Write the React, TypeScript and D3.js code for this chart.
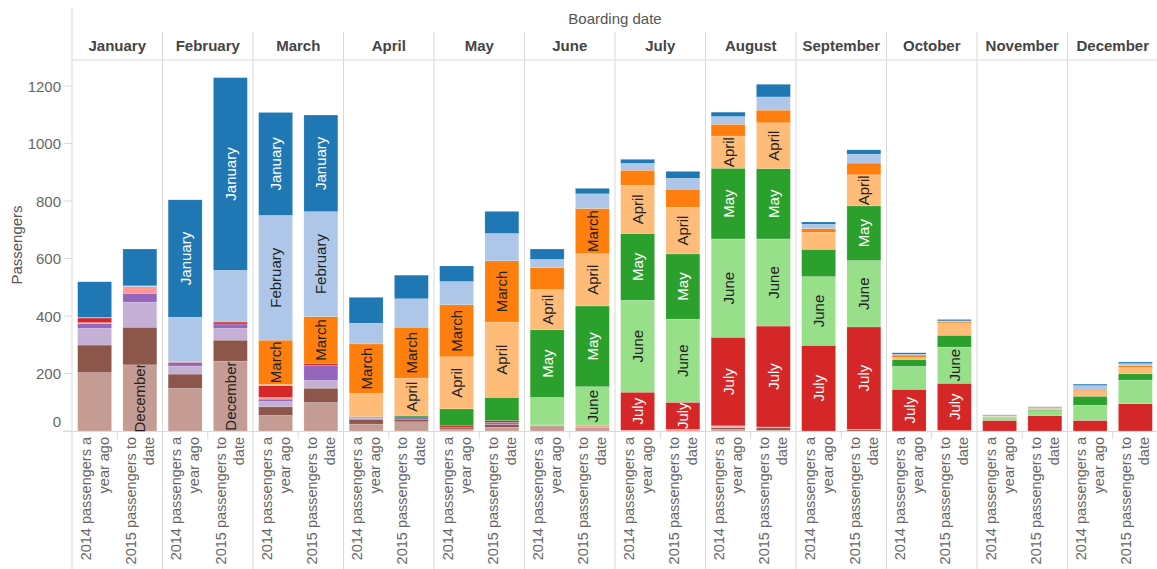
import * as d3 from 'd3';
import React, { useRef, useEffect } from 'react';

// boarding months (columns) and booking months (stack colours) share the same names
const months = ['January', 'February', 'March', 'April', 'May', 'June', 'July', 'August', 'September', 'October', 'November', 'December'];
const seriesNames = ['2014 passengers a year ago', '2015 passengers to date'];
const axisLines = [['2014 passengers a', 'year ago'], ['2015 passengers to', 'date']];
const yTicks = [0, 200, 400, 600, 800, 1000, 1200];

// each row: one boarding month, values by booking month Jan..Dec
const yearAgo = [
    [124, 2, 0, 0, 0, 0, 16, 3, 17, 58, 96, 203],
    [408, 154, 3, 0, 0, 0, 0, 0, 13, 28, 50, 148],
    [358, 434, 154, 4, 0, 0, 41, 6, 8, 19, 30, 54],
    [90, 72, 172, 81, 3, 0, 0, 0, 3, 3, 17, 24],
    [54, 81, 181, 181, 59, 0, 5, 0, 0, 0, 6, 7],
    [36, 28, 77, 140, 235, 96, 0, 3, 0, 0, 0, 18],
    [14, 24, 52, 168, 232, 320, 132, 3, 0, 0, 0, 0],
    [15, 27, 41, 112, 246, 342, 308, 3, 0, 3, 6, 6],
    [8, 15, 13, 59, 95, 239, 298, 0, 0, 0, 0, 0],
    [5, 3, 8, 7, 24, 80, 145, 0, 0, 0, 0, 0],
    [2, 3, 0, 3, 2, 9, 37, 0, 0, 0, 0, 0],
    [5, 16, 5, 16, 31, 53, 37, 0, 0, 0, 0, 0],
];
const toDate = [
    [128, 3, 0, 0, 0, 0, 0, 23, 31, 87, 131, 230],
    [670, 177, 3, 0, 0, 0, 7, 0, 15, 41, 73, 243],
    [336, 365, 163, 0, 0, 0, 7, 0, 52, 27, 50, 99],
    [82, 99, 177, 130, 5, 0, 0, 0, 8, 0, 9, 32],
    [77, 95, 213, 262, 81, 0, 6, 0, 7, 0, 10, 13],
    [19, 51, 157, 182, 281, 136, 0, 5, 0, 0, 0, 13],
    [24, 38, 63, 162, 227, 289, 94, 6, 0, 0, 0, 0],
    [44, 46, 44, 159, 245, 303, 351, 3, 0, 0, 8, 3],
    [15, 31, 41, 108, 190, 231, 356, 2, 0, 0, 4, 0],
    [5, 2, 5, 43, 41, 126, 163, 3, 0, 0, 0, 0],
    [2, 3, 3, 2, 3, 17, 54, 0, 0, 0, 0, 0],
    [5, 8, 6, 22, 22, 82, 95, 0, 0, 0, 0, 0],
];

// which segments carry a mark label in the original
const labelsYearAgo = [
    [], ['January'], ['January', 'February', 'March'], ['March'], ['March', 'April'], ['April', 'May'],
    ['April', 'May', 'June', 'July'], ['April', 'May', 'June', 'July'], ['June', 'July'], ['July'], [], [],
];
const labelsToDate = [
    ['December'], ['January', 'December'], ['January', 'February', 'March'], ['March', 'April'], ['March', 'April'],
    ['March', 'April', 'May', 'June'], ['April', 'May', 'June', 'July'], ['April', 'May', 'June', 'July'],
    ['April', 'May', 'June', 'July'], ['June', 'July'], [], [],
];

const palette = ['#1f77b4', '#aec7e8', '#ff7f0e', '#ffbb78', '#2ca02c', '#98df8a', '#d62728', '#ff9896', '#9467bd', '#c5b0d5', '#8c564b', '#c49c94'];
const darkText = ['January', 'May', 'July', 'September', 'November'];

const width = 1157, height = 569;
const FONT = '"Liberation Sans", Arial, sans-serif';

export default function App() {
    const ref = useRef(null);

    useEffect(() => {
        draw();
    }, []);

    const draw = () => {
        const svg = d3.select(ref.current);
        svg.selectAll('*').remove();

        const left = 72, right = 1158, plotTop = 60, base = 431;
        const grid = '#d9d9d9';

        const x0 = d3.scaleBand().domain(months).range([left, right]);
        const x1 = d3.scaleBand().domain(seriesNames).range([0, x0.bandwidth()]).paddingInner(0.25).paddingOuter(0.125);
        const y = d3.scaleLinear().domain([0, 1200]).range([base, 86]);
        const color = d3.scaleOrdinal().domain(months).range(palette);

        const rows = [];
        months.forEach((m, i) => {
            [yearAgo, toDate].forEach((src, s) => {
                const r = { month: m, series: seriesNames[s], labels: (s === 0 ? labelsYearAgo : labelsToDate)[i] };
                months.forEach((b, j) => { r[b] = src[i][j]; });
                rows.push(r);
            });
        });

        // December at the bottom, January on top
        const stack = d3.stack().keys(months.slice().reverse());
        const layers = stack(rows);

        // grid / dividers
        svg.append('line').attr('x1', left).attr('x2', left).attr('y1', 7).attr('y2', height).attr('stroke', grid);
        svg.append('line').attr('x1', left).attr('x2', width).attr('y1', plotTop).attr('y2', plotTop).attr('stroke', grid);
        svg.append('line').attr('x1', 63).attr('x2', width).attr('y1', base + 0.5).attr('y2', base + 0.5).attr('stroke', grid);
        months.slice(1).forEach(m => {
            svg.append('line').attr('x1', x0(m)).attr('x2', x0(m)).attr('y1', 32).attr('y2', height).attr('stroke', grid);
        });
        months.forEach(m => {
            const xm = x0(m) + x0.bandwidth() / 2;
            svg.append('line').attr('x1', xm).attr('x2', xm).attr('y1', base).attr('y2', base + 8).attr('stroke', grid);
        });

        // headers
        svg.append('text').attr('x', (left + right) / 2).attr('y', 18).attr('text-anchor', 'middle')
            .attr('dominant-baseline', 'central').style('font', `15px ${FONT}`).attr('fill', '#555').text('Boarding date');
        svg.selectAll('.hdr').data(months).enter().append('text')
            .attr('x', d => x0(d) + x0.bandwidth() / 2).attr('y', 45)
            .attr('text-anchor', 'middle').attr('dominant-baseline', 'central')
            .style('font', `bold 15px ${FONT}`).attr('fill', '#444').text(d => d);

        // y axis
        const yAxis = svg.append('g');
        yTicks.forEach(t => {
            yAxis.append('line').attr('x1', 64).attr('x2', left).attr('y1', y(t)).attr('y2', y(t)).attr('stroke', grid);
            yAxis.append('text').attr('x', 61).attr('y', t === 0 ? y(t) - 10 : y(t)).attr('text-anchor', 'end')
                .attr('dominant-baseline', 'central').style('font', `15px ${FONT}`).attr('fill', '#666').text(t);
        });
        svg.append('text').attr('transform', 'translate(16,245) rotate(-90)').attr('text-anchor', 'middle')
            .attr('dominant-baseline', 'central').style('font', `15px ${FONT}`).attr('fill', '#555').text('Passengers');

        // bars
        const g = svg.append('g');
        layers.forEach(layer => {
            const key = layer.key;
            layer.forEach(d => {
                const r = d.data;
                if (r[key] <= 0) return;
                const bx = x0(r.month) + x1(r.series);
                g.append('rect')
                    .attr('x', bx).attr('width', x1.bandwidth())
                    .attr('y', y(d[1])).attr('height', y(d[0]) - y(d[1]))
                    .attr('fill', color(key))
                    .attr('stroke', '#fff').attr('stroke-opacity', 0.35).attr('stroke-width', 0.5);
                if (r.labels.includes(key)) {
                    const cx = bx + x1.bandwidth() / 2, cy = (y(d[0]) + y(d[1])) / 2;
                    g.append('text').attr('transform', `translate(${cx},${cy}) rotate(-90)`)
                        .attr('text-anchor', 'middle').attr('dominant-baseline', 'central')
                        .style('font', `15px ${FONT}`)
                        .attr('fill', darkText.includes(key) ? '#fff' : '#222').text(key);
                }
            });
        });

        // x labels
        months.forEach(m => {
            seriesNames.forEach((s, si) => {
                const cx = x0(m) + x1(s) + x1.bandwidth() / 2;
                const t = svg.append('g').attr('transform', `translate(${cx},437) rotate(-90)`);
                axisLines[si].forEach((line, li) => {
                    t.append('text').attr('x', 0).attr('y', li === 0 ? -9 : 9).attr('text-anchor', 'end')
                        .attr('dominant-baseline', 'central').style('font', `14.5px ${FONT}`).attr('fill', '#666').text(line);
                });
            });
        });
    };

    return (
        <svg ref={ref} width={width} height={height}
            style={{ position: 'absolute', left: 0, top: 0, background: '#fff' }}></svg>
    );
}
